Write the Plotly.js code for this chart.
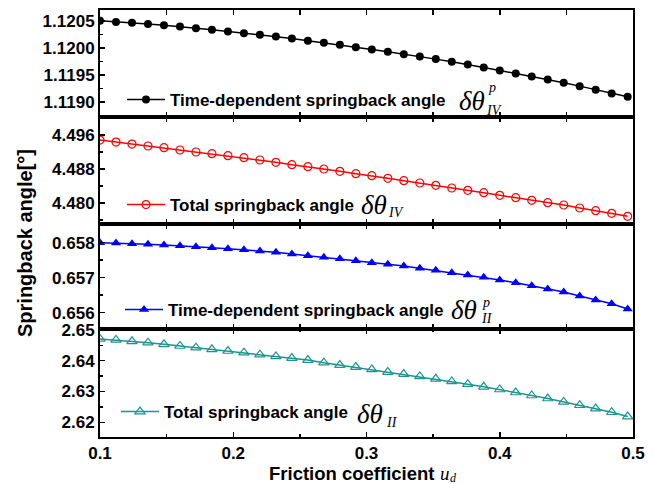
<!DOCTYPE html>
<html>
<head>
<meta charset="utf-8">
<script src="https://cdn.plot.ly/plotly-3.0.1.min.js"></script>
<style>html,body{margin:0;padding:0;background:#fff;}#chart{width:654px;height:484px;}</style>
</head>
<body>
<div id="chart"></div>
<script>
// Friction coefficient u_d
const frictionCoef = [0.100,0.112,0.124,0.136,0.148,0.160,0.172,0.184,0.196,0.208,0.220,0.232,0.244,0.256,0.268,0.280,0.292,0.304,0.316,0.328,0.340,0.352,0.364,0.376,0.388,0.400,0.412,0.424,0.436,0.448,0.460,0.472,0.484,0.496];

// Time-dependent springback angle δθ^p_IV
const timeDepIV = [1.12050,1.120476,1.120463,1.120439,1.120420,1.120396,1.120364,1.120333,1.120303,1.120272,1.120240,1.120211,1.120174,1.120129,1.120092,1.120055,1.120013,1.119970,1.119926,1.119883,1.119841,1.119791,1.119741,1.119693,1.119637,1.119581,1.119526,1.119470,1.119415,1.119352,1.119291,1.119222,1.119156,1.119093];

// Total springback angle δθ_IV
const totalIV = [4.49482,4.49435,4.49388,4.49341,4.49302,4.49247,4.49200,4.49161,4.49114,4.49067,4.49012,4.48957,4.48902,4.48855,4.48800,4.48745,4.48690,4.48643,4.48580,4.48525,4.48471,4.48416,4.48353,4.48298,4.48243,4.48180,4.48125,4.48063,4.48008,4.47953,4.47882,4.47820,4.47757,4.47686];

// Time-dependent springback angle δθ^p_II
const timeDepII = [0.658000,0.657990,0.657971,0.657952,0.657933,0.657914,0.657886,0.657857,0.657829,0.657800,0.657762,0.657724,0.657676,0.657629,0.657581,0.657543,0.657486,0.657429,0.657381,0.657333,0.657267,0.657210,0.657143,0.657076,0.657010,0.656933,0.656857,0.656771,0.656676,0.656590,0.656476,0.656362,0.656257,0.656105];

// Total springback angle δθ_II
const totalII = [2.64707,2.64674,2.64630,2.64587,2.64533,2.64478,2.64424,2.64370,2.64315,2.64261,2.64196,2.64141,2.64087,2.64022,2.63935,2.63859,2.63793,2.63717,2.63630,2.63565,2.63489,2.63413,2.63326,2.63239,2.63152,2.63065,2.62967,2.62870,2.62772,2.62663,2.62554,2.62446,2.62326,2.62185];

const legendNames = ["Time-dependent springback angle", "Total springback angle", "Time-dependent springback angle", "Total springback angle"];

const SANS = "Arial, 'Liberation Sans', sans-serif";
const SERIF = "'Times New Roman', 'Liberation Serif', serif";
const TEAL = "#1f9490";

const traces = [
  {x: frictionCoef, y: timeDepIV, yaxis: 'y', legend: 'legend', name: legendNames[0], mode: 'lines+markers',
   line: {color: '#000000', width: 1.5}, marker: {symbol: 'circle', size: 8, color: '#000000'}},
  {x: frictionCoef, y: totalIV, yaxis: 'y2', legend: 'legend2', name: legendNames[1], mode: 'lines+markers',
   line: {color: '#ff0000', width: 1.5}, marker: {symbol: 'circle-open', size: 8, color: '#ff0000', line: {width: 1.2}}},
  {x: frictionCoef, y: timeDepII, yaxis: 'y3', legend: 'legend3', name: legendNames[2], mode: 'lines+markers',
   line: {color: '#0000ff', width: 1.5}, marker: {symbol: 'triangle-up', size: 9, color: '#0000ff'}},
  {x: frictionCoef, y: totalII, yaxis: 'y4', legend: 'legend4', name: legendNames[3], mode: 'lines+markers',
   line: {color: TEAL, width: 1.5}, marker: {symbol: 'triangle-up-open', size: 9, color: TEAL, line: {width: 1.2}}}
];

// pixel helpers for plot-area-relative placement
const L = 100, R = 633, T = 10, B = 437;
const px = v => (v - L) / (R - L);
const py = v => (B - v) / (B - T);

const tickFont = {family: SANS, size: 17, color: '#000', weight: 'bold'};
function yax(domain, range, dtick, tick0, fmt, minorDtick) {
  return {
    domain: domain, range: range, anchor: 'x',
    showline: true, linewidth: 2, linecolor: '#000', mirror: true,
    ticks: 'inside', ticklen: 5, tickwidth: 1.5, tickcolor: '#000',
    tick0: tick0, dtick: dtick, tickformat: fmt,
    minor: {ticks: 'inside', ticklen: 3, tickwidth: 1.5, tickcolor: '#000', dtick: minorDtick, tick0: tick0, showgrid: false},
    showgrid: false, zeroline: false, tickfont: tickFont
  };
}

const legendBase = {font: {family: SANS, size: 17, color: '#000', weight: 'bold'}, bgcolor: 'rgba(0,0,0,0)',
  borderwidth: 0, xanchor: 'left', yanchor: 'middle', xref: 'paper', yref: 'paper', itemwidth: 38};

function ann(text, x, y, font, extra) {
  return Object.assign({text: text, xref: 'paper', yref: 'paper', x: px(x), y: py(y), showarrow: false,
    xanchor: 'left', yanchor: 'middle', font: font}, extra || {});
}
const bigSym = {family: SERIF, size: 27, color: '#000'};
const smallSym = {family: SERIF, size: 14, color: '#000'};

const layout = {
  width: 654, height: 484,
  margin: {l: L, r: 654 - R, t: T, b: 484 - B, pad: 0},
  paper_bgcolor: '#fff', plot_bgcolor: '#fff',
  showlegend: true,
  xaxis: {
    range: [0.1, 0.5], dtick: 0.1, tick0: 0.1, tickformat: '.1f',
    showline: true, linewidth: 2, linecolor: '#000', mirror: 'allticks',
    ticks: 'inside', ticklen: 5, tickwidth: 1.5, tickcolor: '#000',
    minor: {ticks: 'inside', ticklen: 3, tickwidth: 1.5, tickcolor: '#000', dtick: 0.05, showgrid: false},
    showgrid: false, zeroline: false, anchor: 'y4', tickfont: tickFont
  },
  yaxis:  yax([py(117), 1], [1.11872, 1.12070], 0.0005, 1.1190, '.4f', 0.00025),
  yaxis2: yax([py(224), py(117)], [4.47506, 4.50024], 0.008, 4.480, '.3f', 0.004),
  yaxis3: yax([py(329), py(224)], [0.655534, 0.658534], 0.001, 0.656, '.3f', 0.0005),
  yaxis4: yax([0, py(329)], [2.61522, 2.6503], 0.01, 2.62, '.2f', 0.005),
  legend:  Object.assign({}, legendBase, {x: px(122), y: py(100)}),
  legend2: Object.assign({}, legendBase, {x: px(122), y: py(205)}),
  legend3: Object.assign({}, legendBase, {x: px(120), y: py(310)}),
  legend4: Object.assign({}, legendBase, {x: px(116), y: py(412)}),
  annotations: [
    ann('Springback angle[°]', 25, 243, {family: SANS, size: 20, color: '#000', weight: 'bold'}, {textangle: -90, xanchor: 'center'}),
    // x-axis title
    ann('Friction coefficient', 437, 473, {family: SANS, size: 18.5, color: '#000', weight: 'bold'}, {xanchor: 'right'}),
    ann('<i>u</i>', 438, 473, {family: SERIF, size: 19, color: '#000'}),
    ann('<i>d</i>', 448, 478, {family: SERIF, size: 12, color: '#000'}),
    // panel 1 symbol
    ann('<i>δθ</i>', 457, 101, bigSym),
    ann('<i>p</i>', 486, 88, smallSym),
    ann('<i>IV</i>', 484, 110, smallSym),
    // panel 2
    ann('<i>δθ</i>', 359, 205, bigSym),
    ann('<i>IV</i>', 386, 212, smallSym),
    // panel 3
    ann('<i>δθ</i>', 449, 310, bigSym),
    ann('<i>p</i>', 480, 302, smallSym),
    ann('<i>II</i>', 479, 318, smallSym),
    // panel 4
    ann('<i>δθ</i>', 355, 414, bigSym),
    ann('<i>II</i>', 384, 422, smallSym)
  ]
};

Plotly.newPlot('chart', traces, layout, {displayModeBar: false, staticPlot: true});
</script>
</body>
</html>
